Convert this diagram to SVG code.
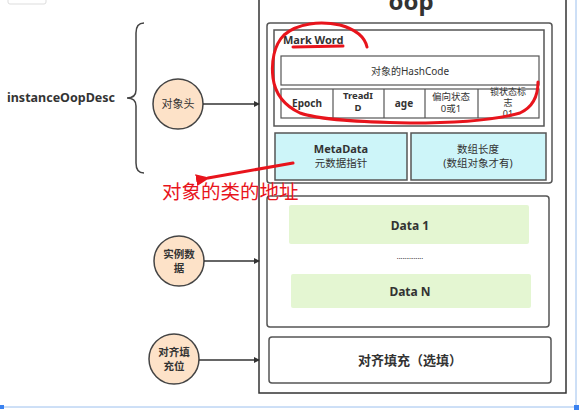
<svg xmlns="http://www.w3.org/2000/svg" width="582" height="412" viewBox="0 0 582 412">
<style>
.t{font-family:"Noto Sans","Noto Sans CJK SC",sans-serif;fill:#333;text-anchor:middle}
.b{font-weight:bold}
.box{fill:#fff;stroke:#555;stroke-width:1.5}
.cell{fill:#fff;stroke:#555;stroke-width:1.2}
.circ{fill:#fde2c8;stroke:#444;stroke-width:1.5}
.cyan{fill:#cdf5f9;stroke:#555;stroke-width:1.5}
.green{fill:#e4f6d2}
.conn{stroke:#333;stroke-width:1.5;fill:none}
.red{stroke:#e8141c;stroke-width:3;fill:none;stroke-linecap:round;stroke-linejoin:round}
</style>
<defs>
<marker id="ah" markerWidth="6" markerHeight="6" refX="5" refY="3" orient="auto" markerUnits="userSpaceOnUse"><path d="M0,0 L6,3 L0,6 Z" fill="#333"/></marker>
<marker id="rh" markerWidth="14" markerHeight="12" refX="2" refY="6" orient="auto" markerUnits="userSpaceOnUse"><path d="M14,0 L0,6 L14,12 Z" fill="#e8141c"/></marker>
</defs>
<rect width="582" height="412" fill="#fff"/>
<rect x="8" y="-6" width="38" height="10" rx="2" fill="#fff" stroke="#ddd"/>
<g id="oop">
<rect x="259" y="-10" width="307" height="403" fill="#fff" stroke="#333" stroke-width="1.5"/>
<text class="t b" x="411" y="10" font-size="24">oop</text>
</g>
<g id="header">
<rect class="box" x="267" y="23" width="285" height="160" rx="3"/>
<rect class="box" x="274" y="30" width="270" height="96"/>
<text class="t b" x="283" y="44" font-size="11" style="text-anchor:start">Mark Word</text>
<rect class="cell" x="281" y="56" width="258" height="29"/>
<text class="t" x="410" y="75" font-size="10">对象的HashCode</text>
<rect class="cell" x="281" y="89" width="258" height="29"/>
<line class="cell" x1="333" y1="89" x2="333" y2="118"/>
<line class="cell" x1="384" y1="89" x2="384" y2="118"/>
<line class="cell" x1="425" y1="89" x2="425" y2="118"/>
<line class="cell" x1="478" y1="89" x2="478" y2="118"/>
<text class="t b" x="307" y="107" font-size="10">Epoch</text>
<text class="t b" x="358" y="99" font-size="9.5">TreadI</text>
<text class="t b" x="358" y="111" font-size="9.5">D</text>
<text class="t b" x="404" y="107" font-size="10">age</text>
<text class="t" x="451" y="100" font-size="9.5">偏向状态</text>
<text class="t" x="451" y="112" font-size="9.5">0或1</text>
<text class="t" x="508" y="95" font-size="9">锁状态标</text>
<text class="t" x="508" y="106" font-size="9">志</text>
<text class="t" x="508" y="117" font-size="9">01</text>
<rect class="cyan" x="275" y="133" width="132" height="47"/>
<text class="t b" x="341" y="153" font-size="11">MetaData</text>
<text class="t" x="341" y="167" font-size="10.5">元数据指针</text>
<rect class="cyan" x="411" y="133" width="135" height="47"/>
<text class="t" x="478" y="153" font-size="10.5">数组长度</text>
<text class="t" x="478" y="167" font-size="10.5">(数组对象才有)</text>
</g>
<g id="instance-data">
<rect class="box" x="267" y="196" width="282" height="131" rx="3"/>
<rect class="green" x="289" y="205" width="240" height="39" rx="2"/>
<text class="t b" x="410" y="230" font-size="12">Data 1</text>
<text class="t" x="410" y="259" font-size="7" fill="#777">..............</text>
<rect class="green" x="291" y="274" width="240" height="34" rx="2"/>
<text class="t b" x="410" y="296" font-size="12">Data N</text>
</g>
<g id="padding">
<rect class="box" x="269" y="337" width="282" height="46" rx="3"/>
<text class="t b" x="410" y="365" font-size="13">对齐填充（选填）</text>
</g>
<g id="instanceOopDesc">
<text class="t b" x="7" y="102" font-size="12.5" style="text-anchor:start">instanceOopDesc</text>
<path d="M144,23 Q136,23 136,33 L136,90 Q136,98 127,98 Q136,98 136,106 L136,163 Q136,173 144,173" fill="none" stroke="#444" stroke-width="1.5"/>
</g>
<g id="node-header">
<circle class="circ" cx="178" cy="104" r="25"/>
<text class="t" x="178" y="108" font-size="11">对象头</text>
</g>
<g id="node-data">
<circle class="circ" cx="179" cy="261" r="25"/>
<text class="t b" x="179" y="258" font-size="10.5">实例数</text>
<text class="t b" x="179" y="272" font-size="10.5">据</text>
</g>
<g id="node-pad">
<circle class="circ" cx="174" cy="359" r="25"/>
<text class="t b" x="174" y="356" font-size="10.5">对齐填</text>
<text class="t b" x="174" y="370" font-size="10.5">充位</text>
</g>
<g id="connectors">
<line class="conn" x1="203" y1="104" x2="259" y2="104" marker-end="url(#ah)"/>
<line class="conn" x1="204" y1="261" x2="259" y2="261" marker-end="url(#ah)"/>
<line class="conn" x1="199" y1="360" x2="259" y2="360" marker-end="url(#ah)"/>
</g>
<g id="annotations">
<path class="red" d="M367,47 C365,38 358,30 340,25 C320,21 298,23 284,35 C274,45 271,62 273,78 C275,93 283,105 300,113 C320,120 360,122 410,123 C455,123 495,120 520,113 C533,107 538,96 538,82"/>
<line class="red" x1="293" y1="47" x2="343" y2="46"/>
<line class="red" x1="293" y1="163" x2="208" y2="178" marker-end="url(#rh)"/>
<text x="162" y="199" font-size="19.5" fill="#e8141c" font-family="'Noto Sans CJK SC',sans-serif">对象的类的地址</text>
</g>
<g id="frame">
<line x1="576" y1="0" x2="576" y2="407" stroke="#9cc0ee" stroke-width="1"/>
<line x1="0" y1="407" x2="577" y2="407" stroke="#9cc0ee" stroke-width="1"/>
<rect x="0" y="405" width="4" height="4" fill="#3b82f0"/>
<rect x="574" y="405" width="5" height="5" fill="#3b82f0"/>
</g>
</svg>
